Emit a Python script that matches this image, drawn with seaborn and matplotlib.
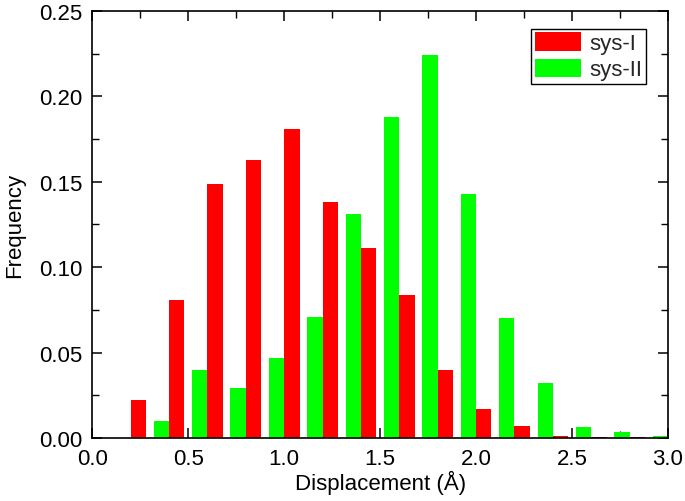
import numpy as np
import pandas as pd
import seaborn as sns
import matplotlib.pyplot as plt
from matplotlib.ticker import MultipleLocator

# bin centres (Å) and frequencies
bin_centers = [0.3, 0.5, 0.7, 0.9, 1.1, 1.3, 1.5, 1.7, 1.9, 2.1, 2.3, 2.5, 2.7, 2.9]
sys_1 = [0.022, 0.081, 0.149, 0.163, 0.181, 0.138, 0.111, 0.084, 0.040, 0.017,
         0.0068, 0.0012, 0.0006, 0.0005]
sys_2 = [0.0097, 0.040, 0.029, 0.047, 0.071, 0.131, 0.188, 0.224, 0.143, 0.070,
         0.032, 0.0066, 0.0033, 0.0012]
labels = ["sys-I", "sys-II"]

df = pd.concat([
    pd.DataFrame({"disp": bin_centers, "freq": sys_1, "system": labels[0]}),
    pd.DataFrame({"disp": bin_centers, "freq": sys_2, "system": labels[1]}),
])

sns.set_theme(style="ticks")
plt.rcParams["font.family"] = ["Liberation Sans", "DejaVu Sans"]

fig = plt.figure(figsize=(6.85, 5.02), dpi=100)
ax = fig.add_axes([0.1347, 0.1255, 0.8405, 0.8506])

sns.barplot(
    data=df, x="disp", y="freq", hue="system",
    palette={"sys-I": "#ff0000", "sys-II": "#00ff00"}, saturation=1,
    native_scale=True, width=1.2, gap=1 / 3, dodge=True,
    errorbar=None, linewidth=0, ax=ax,
)

ax.set_xlim(0, 3.0)
ax.set_ylim(0, 0.25)
ax.xaxis.set_major_locator(MultipleLocator(0.5))
ax.xaxis.set_minor_locator(MultipleLocator(0.25))
ax.yaxis.set_major_locator(MultipleLocator(0.05))
ax.yaxis.set_minor_locator(MultipleLocator(0.025))
ax.xaxis.set_major_formatter(plt.FormatStrFormatter("%.1f"))
ax.yaxis.set_major_formatter(plt.FormatStrFormatter("%.2f"))
ax.tick_params(which="both", direction="in", top=True, right=True, color="black")
ax.tick_params(which="major", length=7, width=1.1, labelsize=16, colors="black", pad=7)
ax.tick_params(which="minor", length=5, width=1.0)
for s in ax.spines.values():
    s.set_visible(True)
    s.set_color("black")
    s.set_linewidth(1.2)

ax.set_xlabel("Displacement (Å)", fontsize=16, color="black", labelpad=1)
ax.set_ylabel("Frequency", fontsize=16, color="black", labelpad=10)

leg = ax.legend(loc="upper right", bbox_to_anchor=(0.961, 0.958), fontsize=16,
                frameon=True, fancybox=False, edgecolor="black", framealpha=1,
                handlelength=2.1, handleheight=0.9, handletextpad=0.36,
                borderpad=0.15, labelspacing=0.2, borderaxespad=0)
leg.get_frame().set_linewidth(1.0)

fig.savefig("out.png", dpi=100)
